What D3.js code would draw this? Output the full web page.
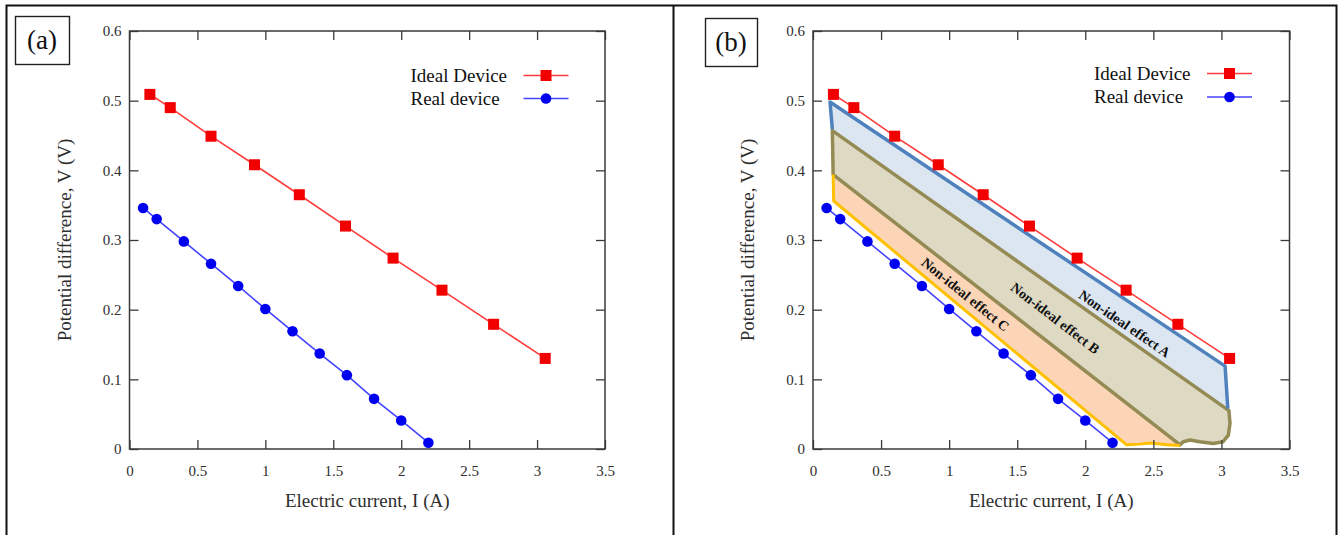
<!DOCTYPE html>
<html>
<head>
<meta charset="utf-8">
<script src="https://cdn.jsdelivr.net/npm/d3@7"></script>
<style>
  html, body { margin: 0; padding: 0; background: #fff; }
  svg { display: block; }
  svg text { font-family: 'Liberation Serif', 'DejaVu Serif', 'Times New Roman', serif !important; }
</style>
</head>
<body>
<svg id="chart" width="1340" height="535"></svg>
<script>
// ---- data -------------------------------------------------------------
const idealCurrent = [0.15, 0.30, 0.60, 0.92, 1.25, 1.59, 1.94, 2.30, 2.68, 3.06];
const idealVoltage = [0.509, 0.490, 0.449, 0.408, 0.365, 0.320, 0.274, 0.228, 0.179, 0.130];

const realCurrent = [0.1, 0.2, 0.4, 0.6, 0.8, 1.0, 1.2, 1.4, 1.6, 1.8, 2.0, 2.2];
const realVoltage = [0.346, 0.330, 0.298, 0.266, 0.234, 0.201, 0.169, 0.137, 0.106, 0.072, 0.041, 0.009];

const xTickValues = [0, 0.5, 1, 1.5, 2, 2.5, 3, 3.5];
const xTickLabels = ["0", "0.5", "1", "1.5", "2", "2.5", "3", "3.5"];
const yTickValues = [0, 0.1, 0.2, 0.3, 0.4, 0.5, 0.6];
const yTickLabels = ["0", "0.1", "0.2", "0.3", "0.4", "0.5", "0.6"];

const seriesNames = ["Ideal Device", "Real device"];
const panelLabels = ["(a)", "(b)"];
const xTitle = "Electric current, I (A)";
const yTitle = "Potential difference, V (V)";

// loss regions shaded in panel (b), as [I, V] vertices
const effectAFill = [[0.125, 0.498], [3.027, 0.119], [3.047, 0.058], [3.055, 0.055], [0.142, 0.457], [0.142, 0.459]];
const effectAEdge = [[0.142, 0.459], [0.125, 0.498], [3.027, 0.119], [3.047, 0.058]];
const effectB = [[0.142, 0.457], [3.055, 0.055], [3.063, 0.037], [3.051, 0.020], [3.012, 0.0105],
                 [2.94, 0.008], [2.84, 0.0105], [2.77, 0.013], [2.72, 0.0105], [2.696, 0.006], [0.148, 0.394]];
const effectCFill = [[0.148, 0.394], [2.696, 0.006], [2.60, 0.006], [2.475, 0.0086], [2.40, 0.007],
                     [2.304, 0.006], [0.152, 0.356]];
const effectCEdge = [[0.148, 0.394], [0.152, 0.356], [2.304, 0.006], [2.40, 0.007], [2.475, 0.0086],
                     [2.60, 0.006], [2.696, 0.005]];
const effectLabels = ["Non-ideal effect A", "Non-ideal effect B", "Non-ideal effect C"];
const effectLabelPos = [[2.29, 0.18], [1.78, 0.188], [1.12, 0.222]];

// ---- layout -----------------------------------------------------------
const FONT = "'Liberation Serif', 'DejaVu Serif', 'Times New Roman', serif";
const svg = d3.select("#chart");
const plotTop = 31, plotBottom = 449;
const panels = [
  { left: 129.5, right: 605, box: [15, 16, 54, 48], legendY: [75.5, 98.5], shaded: false },
  { left: 813, right: 1289.5, box: [705, 18, 52, 48], legendY: [73.5, 97], shaded: true }
];

const idealColor = "#f20000", idealLine = "#ff3b3b";
const realColor = "#0000f0", realLine = "#4444ff";
const axisColor = "#3a3a3a";
const textColor = "#2e2e2e";

// outer frame: open at the bottom, split between the two panels
const frame = svg.append("g").attr("stroke", "#111").attr("stroke-width", 2).attr("fill", "none");
frame.append("path").attr("d", "M6.5,535 V5.5 H1336.5 V535");
frame.append("line").attr("x1", 673.5).attr("x2", 673.5).attr("y1", 5.5).attr("y2", 535);

panels.forEach((p, i) => {
  const g = svg.append("g").attr("font-family", FONT);
  const x = d3.scaleLinear().domain([0, 3.5]).range([p.left, p.right]);
  const y = d3.scaleLinear().domain([0, 0.6]).range([plotBottom, plotTop]);

  // panel tag
  g.append("rect").attr("x", p.box[0] + 0.5).attr("y", p.box[1] + 0.5)
    .attr("width", p.box[2]).attr("height", p.box[3])
    .attr("fill", "none").attr("stroke", "#222").attr("stroke-width", 1.4);
  g.append("text").attr("x", p.box[0] + p.box[2] / 2).attr("y", p.box[1] + p.box[3] / 2 + 9)
    .attr("text-anchor", "middle").attr("font-size", 27).attr("fill", "#111")
    .text(panelLabels[i]);

  // shaded loss regions
  if (p.shaded) {
    const poly = d3.line().x(d => x(d[0])).y(d => y(d[1]));
    const closed = pts => poly(pts) + "Z";
    g.append("path").attr("d", closed(effectCFill)).attr("fill", "#fbd5b5").attr("stroke", "none");
    g.append("path").attr("d", closed(effectAFill)).attr("fill", "#dce6f1").attr("stroke", "none");
    g.append("path").attr("d", closed(effectB)).attr("fill", "#ddd9c3")
      .attr("stroke", "#948a54").attr("stroke-width", 3.5).attr("stroke-linejoin", "round");
    g.append("path").attr("d", poly(effectAEdge)).attr("fill", "none")
      .attr("stroke", "#4f81bd").attr("stroke-width", 3.5).attr("stroke-linejoin", "round");
    g.append("path").attr("d", poly(effectCEdge)).attr("fill", "none")
      .attr("stroke", "#ffc000").attr("stroke-width", 3).attr("stroke-linejoin", "round");

    const angles = [34.5, 37.5, 39];
    effectLabels.forEach((t, k) => {
      const [cx, cy] = [x(effectLabelPos[k][0]), y(effectLabelPos[k][1])];
      g.append("text").attr("transform", `translate(${cx},${cy}) rotate(${angles[k]})`)
        .attr("text-anchor", "middle").attr("dy", "0.35em")
        .attr("font-size", 14).attr("font-weight", "bold").attr("fill", "#111")
        .text(t);
    });
  }

  // axes with inward ticks mirrored on all sides
  const styleAxis = sel => {
    sel.attr("font-family", FONT).attr("font-size", 15);
    sel.select(".domain").remove();
    sel.selectAll(".tick line").attr("stroke", axisColor).attr("stroke-width", 1.3);
    sel.selectAll(".tick text").attr("fill", textColor);
  };
  g.append("g").attr("transform", `translate(0,${plotBottom})`)
    .call(d3.axisBottom(x).tickValues(xTickValues).tickFormat((d, k) => xTickLabels[k])
      .tickSizeInner(-9).tickSizeOuter(0).tickPadding(16))
    .call(styleAxis);
  g.append("g").attr("transform", `translate(0,${plotTop})`)
    .call(d3.axisTop(x).tickValues(xTickValues).tickFormat("").tickSizeInner(-9).tickSizeOuter(0))
    .call(styleAxis);
  g.append("g").attr("transform", `translate(${p.left},0)`)
    .call(d3.axisLeft(y).tickValues(yTickValues).tickFormat((d, k) => yTickLabels[k])
      .tickSizeInner(-9).tickSizeOuter(0).tickPadding(8))
    .call(styleAxis);
  g.append("g").attr("transform", `translate(${p.right},0)`)
    .call(d3.axisRight(y).tickValues(yTickValues).tickFormat("").tickSizeInner(-9).tickSizeOuter(0))
    .call(styleAxis);

  g.append("rect").attr("x", p.left).attr("y", plotTop)
    .attr("width", p.right - p.left).attr("height", plotBottom - plotTop)
    .attr("fill", "none").attr("stroke", axisColor).attr("stroke-width", 1.5);

  // axis titles
  g.append("text").attr("x", (p.left + p.right) / 2).attr("y", 507)
    .attr("text-anchor", "middle").attr("font-size", 19).attr("fill", textColor).text(xTitle);
  g.append("text").attr("transform", `translate(${p.left - 59},${(plotTop + plotBottom) / 2}) rotate(-90)`)
    .attr("text-anchor", "middle").attr("font-size", 19).attr("fill", textColor).text(yTitle);

  // series
  const ideal = idealCurrent.map((c, k) => [c, idealVoltage[k]]);
  const real = realCurrent.map((c, k) => [c, realVoltage[k]]);
  const line = d3.line().x(d => x(d[0])).y(d => y(d[1]));

  g.append("path").attr("d", line(ideal)).attr("fill", "none").attr("stroke", idealLine).attr("stroke-width", 1.6);
  g.append("path").attr("d", line(real)).attr("fill", "none").attr("stroke", realLine).attr("stroke-width", 1.6);

  const sq = 11;
  g.selectAll(".ideal").data(ideal).join("rect").attr("class", "ideal")
    .attr("x", d => x(d[0]) - sq / 2).attr("y", d => y(d[1]) - sq / 2)
    .attr("width", sq).attr("height", sq).attr("fill", idealColor);
  g.selectAll(".real").data(real).join("circle").attr("class", "real")
    .attr("cx", d => x(d[0])).attr("cy", d => y(d[1])).attr("r", 5.3).attr("fill", realColor);

  // legend
  const lg = g.append("g");
  const tx = p.left + 281, l1 = p.left + 394, l2 = p.left + 439, mx = p.left + 416.5;
  [0, 1].forEach(k => {
    const yy = p.legendY[k];
    lg.append("text").attr("x", tx).attr("y", yy + 6).attr("font-size", 19).attr("fill", "#111")
      .text(seriesNames[k]);
    lg.append("line").attr("x1", l1).attr("x2", l2).attr("y1", yy).attr("y2", yy)
      .attr("stroke", k === 0 ? idealLine : realLine).attr("stroke-width", 1.6);
    if (k === 0) {
      lg.append("rect").attr("x", mx - sq / 2).attr("y", yy - sq / 2).attr("width", sq).attr("height", sq)
        .attr("fill", idealColor);
    } else {
      lg.append("circle").attr("cx", mx).attr("cy", yy).attr("r", 5.3).attr("fill", realColor);
    }
  });
});
</script>
</body>
</html>
